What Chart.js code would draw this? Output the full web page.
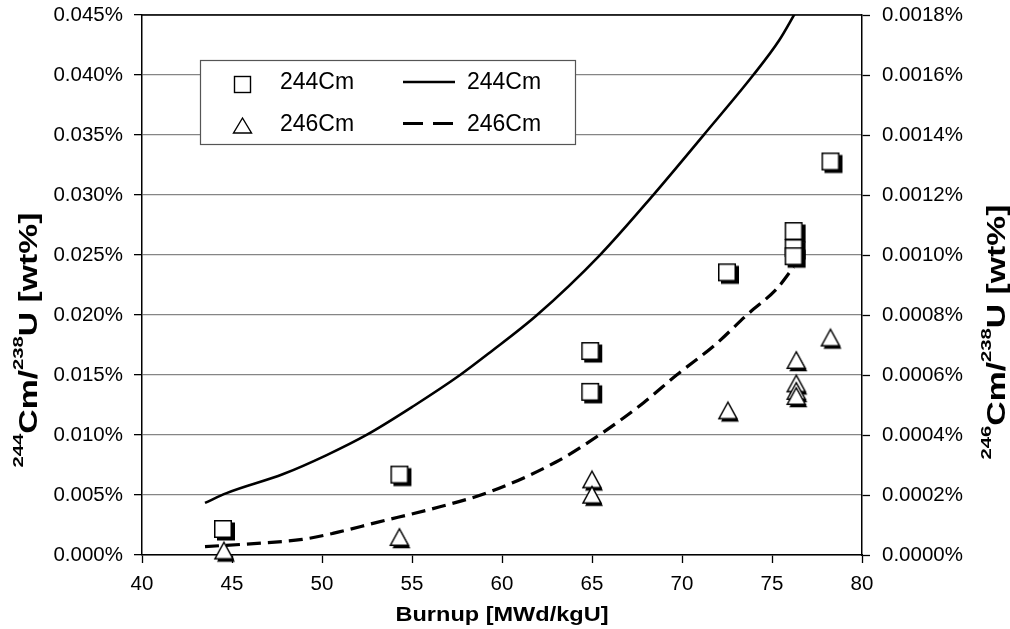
<!DOCTYPE html>
<html>
<head>
<meta charset="utf-8">
<script src="https://cdn.jsdelivr.net/npm/chart.js@4/dist/chart.umd.min.js"></script>
<style>
  html, body { margin: 0; padding: 0; background: #fff; }
  #wrap { width: 1010px; height: 629px; position: relative; }
</style>
</head>
<body>
<div id="wrap"><canvas id="c" width="1010" height="629"></canvas></div>
<script>
// ---------------- data ----------------
const xTickValues = [40, 45, 50, 55, 60, 65, 70, 75, 80];
const xTickLabels = ['40', '45', '50', '55', '60', '65', '70', '75', '80'];
const leftTickValues = [0, 0.005, 0.010, 0.015, 0.020, 0.025, 0.030, 0.035, 0.040, 0.045];
const leftTickLabels = ['0.000%', '0.005%', '0.010%', '0.015%', '0.020%', '0.025%', '0.030%', '0.035%', '0.040%', '0.045%'];
const rightTickValues = [0, 0.0002, 0.0004, 0.0006, 0.0008, 0.0010, 0.0012, 0.0014, 0.0016, 0.0018];
const rightTickLabels = ['0.0000%', '0.0002%', '0.0004%', '0.0006%', '0.0008%', '0.0010%', '0.0012%', '0.0014%', '0.0016%', '0.0018%'];

// measured 244Cm (left axis, wt%)
const meas244X = [44.5, 54.3, 64.9, 64.9, 72.5, 76.2, 76.2, 76.2, 78.25];
const meas244Y = [0.00217, 0.0067, 0.0170, 0.0136, 0.02356, 0.0270, 0.02558, 0.0249, 0.0328];
// measured 246Cm (right axis, wt%)
const meas246X = [44.55, 54.3, 65.0, 65.0, 72.55, 76.35, 76.35, 76.35, 76.35, 78.25];
const meas246Y = [0.000015, 0.00006, 0.000252, 0.000201, 0.000482, 0.00065, 0.000572, 0.000547, 0.00053, 0.000725];
// calculated 244Cm (left axis)
const calc244X = [43.5, 44.7, 47.85, 50.26, 52.5, 55.07, 57.67, 59.33, 61.93, 65.44, 68.4, 71.2, 73.96, 75.4, 76.3];
const calc244Y = [0.00434, 0.00516, 0.00675, 0.00833, 0.01003, 0.0124, 0.0150, 0.01688, 0.01998, 0.0250, 0.0300, 0.0350, 0.0400, 0.0429, 0.0452];
// calculated 246Cm (right axis)
const calc246X = [43.5, 46.4, 48.9, 50.6, 53.0, 56.5, 59.3, 63.0, 65.4, 67.85, 69.7, 71.9, 73.6, 75.3, 76.2];
const calc246Y = [0.000028, 0.000039, 0.000052, 0.000072, 0.000108, 0.00016, 0.00021, 0.00031, 0.0004, 0.000507, 0.0006, 0.000704, 0.0008, 0.00089, 0.00096];

const seriesLabels = ['244Cm', '246Cm', '244Cm', '246Cm'];
const xTitle = [{ t: 'Burnup [MWd/kgU]' }];
const leftTitle = [{ t: '244', sup: true }, { t: 'Cm/' }, { t: '238', sup: true }, { t: 'U [wt%]' }];
const rightTitle = [{ t: '246', sup: true }, { t: 'Cm/' }, { t: '238', sup: true }, { t: 'U [wt%]' }];

// ---------------- styles ----------------
const FONT = '"Liberation Sans", Arial, Helvetica, sans-serif';
Chart.defaults.font.family = FONT;
Chart.defaults.font.size = 20.5;
Chart.defaults.color = '#000';

function pts(xs, ys) { return xs.map((x, i) => ({ x: x, y: ys[i] })); }

function makeSquare() {
  const c = document.createElement('canvas');
  c.width = 30; c.height = 30;
  const g = c.getContext('2d');
  const s = 18, o = 15 - s / 2;
  g.fillStyle = '#000';
  g.fillRect(o + 3, o + 2.5, s, s);
  g.fillStyle = '#fff';
  g.fillRect(o, o, s, s);
  g.strokeStyle = '#000';
  g.lineWidth = 1.5;
  g.strokeRect(o + 0.75, o + 0.75, s - 1.5, s - 1.5);
  return c;
}
function makeTriangle() {
  const c = document.createElement('canvas');
  c.width = 30; c.height = 30;
  const g = c.getContext('2d');
  const w = 18, h = 16.5, cx = 15, cy = 15;
  function tri(dx, dy) {
    g.beginPath();
    g.moveTo(cx + dx, cy - h / 2 + dy);
    g.lineTo(cx - w / 2 + dx, cy + h / 2 + dy);
    g.lineTo(cx + w / 2 + dx, cy + h / 2 + dy);
    g.closePath();
  }
  g.fillStyle = '#000';
  tri(2, 3); g.fill();
  g.fillStyle = '#fff';
  tri(0, 0); g.fill();
  g.strokeStyle = '#000';
  g.lineWidth = 1.5;
  g.lineJoin = 'miter';
  tri(0, 0); g.stroke();
  return c;
}
const squareImg = makeSquare();
const triangleImg = makeTriangle();

function drawRich(ctx, parts, x, y, rot, target, mainSize, supSize, rise) {
  ctx.save();
  ctx.translate(x, y);
  ctx.rotate(rot);
  const widths = parts.map(p => {
    ctx.font = 'bold ' + (p.sup ? supSize : mainSize) + 'px ' + FONT;
    return ctx.measureText(p.t).width;
  });
  const W = widths.reduce((a, b) => a + b, 0);
  ctx.scale(target / W, 1);
  ctx.fillStyle = '#000';
  ctx.textAlign = 'left';
  ctx.textBaseline = 'alphabetic';
  let cx = -W / 2;
  parts.forEach((p, i) => {
    ctx.font = 'bold ' + (p.sup ? supSize : mainSize) + 'px ' + FONT;
    ctx.fillText(p.t, cx, p.sup ? -rise : 0);
    cx += widths[i];
  });
  ctx.restore();
}

const framePlugin = {
  id: 'frame',
  beforeDatasetsDraw(chart) {
    const a = chart.chartArea, ctx = chart.ctx;
    ctx.save();
    ctx.strokeStyle = '#000';
    ctx.lineWidth = 1.5;
    ctx.beginPath();
    ctx.moveTo(a.left, a.top);
    ctx.lineTo(a.right, a.top);
    ctx.stroke();
    ctx.restore();
  },
  afterDraw(chart) {
    const ctx = chart.ctx;
    drawRich(ctx, xTitle, 502, 621, 0, 213, 21, 14, 0);
    drawRich(ctx, leftTitle, 37, 340, -Math.PI / 2, 255, 25, 15, 14);
    drawRich(ctx, rightTitle, 1005, 332, -Math.PI / 2, 255, 25, 15, 14);

    // legend
    const ds = chart.data.datasets;
    ctx.save();
    ctx.fillStyle = '#fff';
    ctx.fillRect(200, 60, 375, 84);
    ctx.strokeStyle = '#555';
    ctx.lineWidth = 1.2;
    ctx.strokeRect(200.5, 60.5, 375, 84);
    ctx.strokeStyle = '#000';
    ctx.lineWidth = 1.4;
    ctx.strokeRect(234.5, 76.5, 16, 16);
    ctx.beginPath();
    ctx.moveTo(242.5, 118);
    ctx.lineTo(233.5, 133);
    ctx.lineTo(251.5, 133);
    ctx.closePath();
    ctx.stroke();
    ctx.lineWidth = 2.5;
    ctx.beginPath(); ctx.moveTo(403, 82); ctx.lineTo(455, 82); ctx.stroke();
    ctx.lineWidth = 3;
    ctx.setLineDash([20, 10]);
    ctx.beginPath(); ctx.moveTo(403, 123.5); ctx.lineTo(455, 123.5); ctx.stroke();
    ctx.setLineDash([]);
    ctx.fillStyle = '#000';
    ctx.font = '23px ' + FONT;
    ctx.textAlign = 'left';
    ctx.textBaseline = 'alphabetic';
    ctx.fillText(ds[0].label, 280, 89);
    ctx.fillText(ds[1].label, 280, 131);
    ctx.fillText(ds[2].label, 467, 89);
    ctx.fillText(ds[3].label, 467, 131);
    ctx.restore();
  }
};

new Chart(document.getElementById('c'), {
  type: 'scatter',
  data: {
    datasets: [
      {
        label: seriesLabels[0], type: 'scatter', data: pts(meas244X, meas244Y), yAxisID: 'y',
        pointStyle: squareImg, pointRadius: 9, clip: false, order: 3
      },
      {
        label: seriesLabels[1], type: 'scatter', data: pts(meas246X, meas246Y), yAxisID: 'y2',
        pointStyle: triangleImg, pointRadius: 9, clip: false, order: 4
      },
      {
        label: seriesLabels[2], type: 'line', data: pts(calc244X, calc244Y), yAxisID: 'y',
        borderColor: '#000', borderWidth: 2.6, pointRadius: 0, showLine: true,
        cubicInterpolationMode: 'monotone', fill: false, order: 1
      },
      {
        label: seriesLabels[3], type: 'line', data: pts(calc246X, calc246Y), yAxisID: 'y2',
        borderColor: '#000', borderWidth: 3.2, borderDash: [14, 7], pointRadius: 0, showLine: true,
        cubicInterpolationMode: 'monotone', fill: false, order: 2
      }
    ]
  },
  options: {
    responsive: false,
    animation: false,
    events: [],
    layout: { padding: { top: 15, left: 0, right: 0, bottom: 0 } },
    plugins: { legend: { display: false }, tooltip: { enabled: false }, title: { display: false } },
    scales: {
      x: {
        type: 'linear', position: 'bottom', min: 40, max: 80,
        afterBuildTicks: s => { s.ticks = xTickValues.map(v => ({ value: v })); },
        afterFit: s => { s.height = 74; },
        ticks: { padding: 9, maxRotation: 0, callback: (v, i) => xTickLabels[i] },
        grid: { drawOnChartArea: false, drawTicks: true, tickLength: 8, tickColor: '#000', tickWidth: 1.3 },
        border: { display: true, color: '#000', width: 1.5 },
        title: { display: false }
      },
      y: {
        type: 'linear', position: 'left', min: 0, max: 0.045,
        afterBuildTicks: s => { s.ticks = leftTickValues.map(v => ({ value: v })); },
        afterFit: s => { s.width = 142; },
        ticks: { padding: 11, font: { lineHeight: 0.3 }, callback: (v, i) => leftTickLabels[i] },
        grid: { color: '#858585', lineWidth: 1.3, drawTicks: true, tickLength: 8, tickColor: '#000', tickWidth: 1.3 },
        border: { display: true, color: '#000', width: 1.5 },
        title: { display: false }
      },
      y2: {
        type: 'linear', position: 'right', min: 0, max: 0.0018,
        afterBuildTicks: s => { s.ticks = rightTickValues.map(v => ({ value: v })); },
        afterFit: s => { s.width = 148; },
        ticks: { padding: 12, font: { lineHeight: 0.3 }, callback: (v, i) => rightTickLabels[i] },
        grid: { drawOnChartArea: false, drawTicks: true, tickLength: 8, tickColor: '#000', tickWidth: 1.3 },
        border: { display: true, color: '#000', width: 1.5 },
        title: { display: false }
      }
    }
  },
  plugins: [framePlugin]
});
</script>
</body>
</html>
